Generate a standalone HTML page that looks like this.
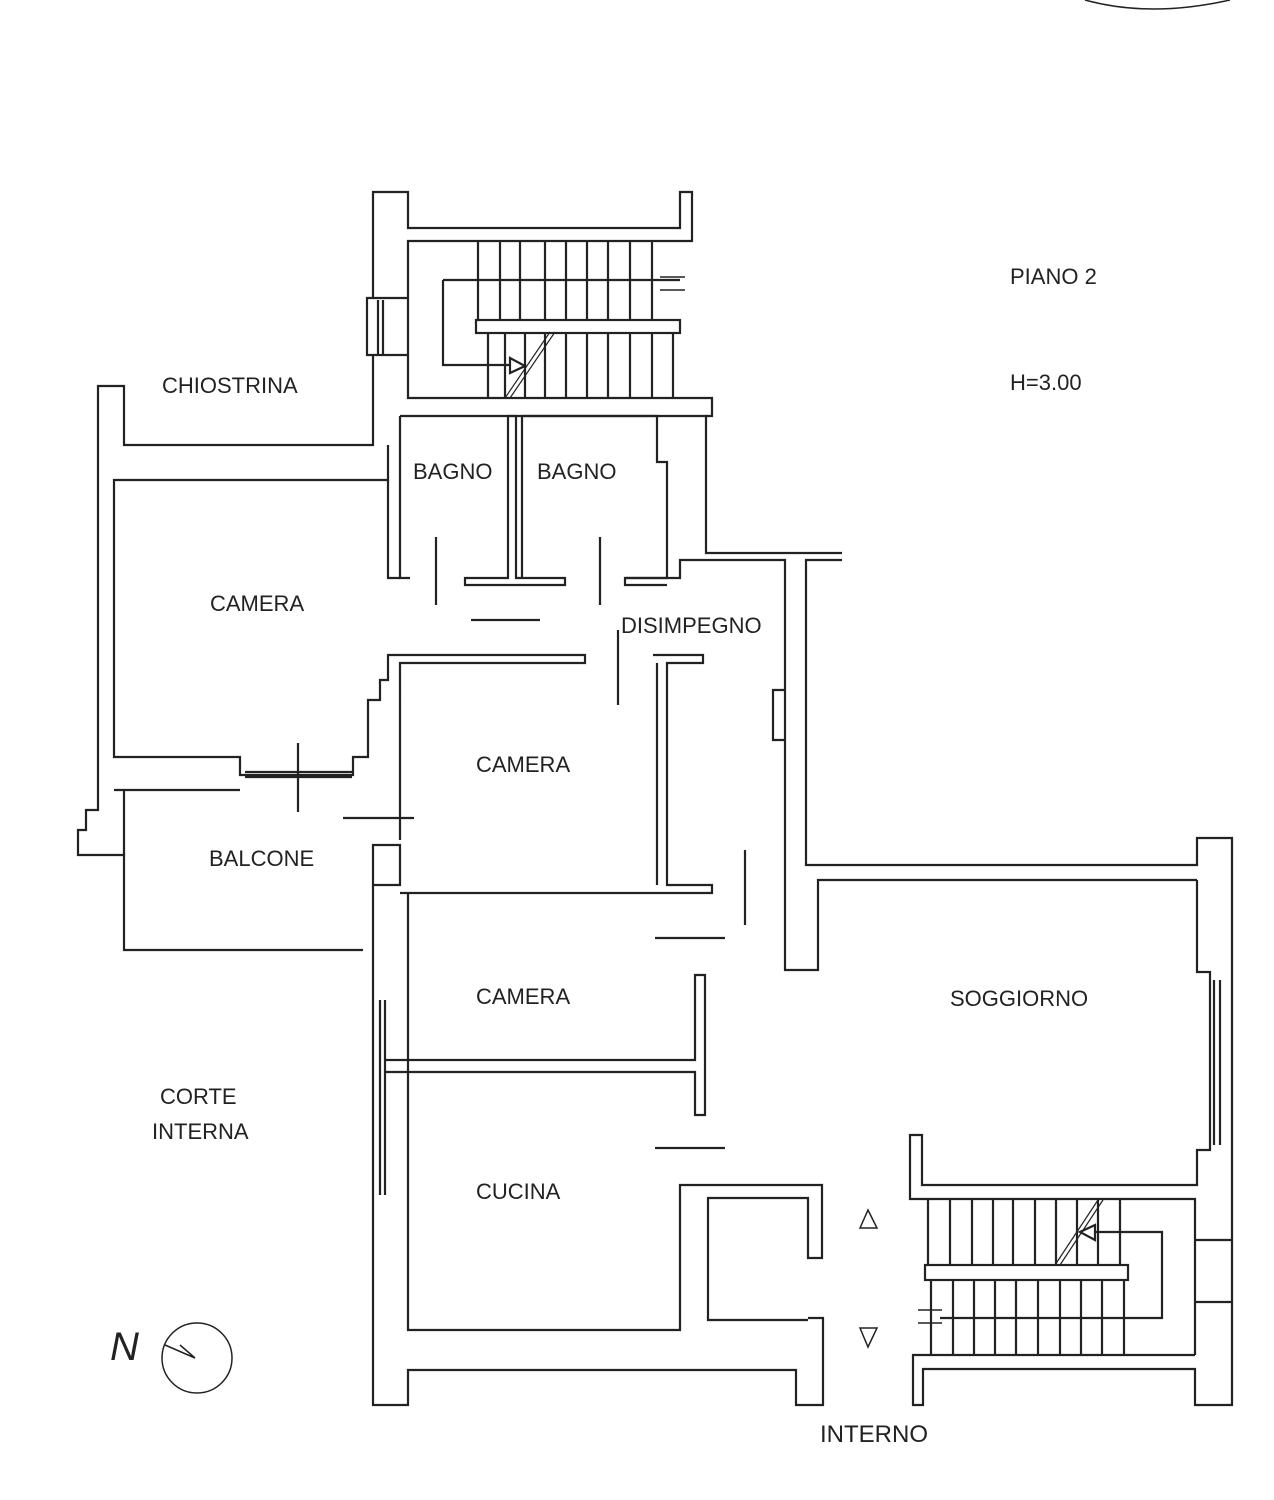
<!DOCTYPE html>
<html><head><meta charset="utf-8"><style>
html,body{margin:0;padding:0;background:#fff}
svg{display:block}
text{font-family:"Liberation Sans",sans-serif;font-size:22px;fill:#222}
</style></head><body>
<svg width="1274" height="1500" viewBox="0 0 1274 1500" xmlns="http://www.w3.org/2000/svg">
<g fill="none" stroke="#222" stroke-width="2.2">
<!-- top stair block -->
<path d="M373,410 V355 H367 V298 H373 V192 H408 V228 H680 V192 H692 V241 H408 V398 H712 V410"/>
<path d="M408,298 H373 M408,355 H373"/>
<path d="M378,300 V355 M383,300 V355"/>
<rect x="476" y="320" width="204" height="13"/>
<path d="M478,241 V320 M500,241 V320 M520,241 V320 M545,241 V320 M566,241 V320 M587,241 V320 M608,241 V320 M630,241 V320 M652,241 V320"/>
<path d="M488,333 V398 M505,333 V398 M525,333 V398 M545,333 V398 M566,333 V398 M587,333 V398 M608,333 V398 M630,333 V398 M652,333 V398 M673,333 V398"/>
<path d="M443,280 H680 M443,280 V365 H510"/>
<path d="M510,358 L525,366 L510,373 Z"/>
<path d="M505,398 L550,332 M510,398 L555,332" stroke-width="1.2"/>
<path d="M660,277 H685 M660,290 H685" stroke-width="1.5"/>
<!-- right of bagno -->
<path d="M712,410 V416 H706 V553 H842"/>
<path d="M842,560 H806 V865 H1197 V838 H1232 V970"/>
<path d="M1197,880 H818 V970 H785 V560 H680 V578 H625"/>
<path d="M785,690 H773 V740 H785"/>
<!-- bagni -->
<path d="M400,416 V578 H410 M465,578 H508 V416 H516 V578 H565 V585 H465 Z"/>
<path d="M522,416 V578 M522,416 H657 V462 H667 V578 H625 V585 H667"/>
<path d="M400,416 H708"/>
<!-- door jambs/swings -->
<path d="M436,537 V605 M600,537 V605 M471,620 H540 M618,630 V705 M655,938 H725 M745,850 V925 M655,1148 H725"/>
<!-- chiostrina and camera -->
<path d="M373,410 V445 H124 V386 H98 V810 H86 V830 H78 V855 H124 V950 H363"/>
<path d="M388,445 V480 H114 V757 H240 V775 H353 V757 H368 V700 H380 V680 H388 V655 H585 V663 H400 V840"/>
<path d="M114,790 H240 M124,790 V855"/>
<path d="M245,772 H352 M245,777 H352"/>
<path d="M298,743 V812 M343,818 H414"/>
<path d="M388,480 V578 H400"/>
<!-- camera 2 / corridor -->
<path d="M653,655 H703 V663 H667 V885 H712 V893 H400"/>
<path d="M657,663 V885"/>
<path d="M373,845 H400 V885 H373 Z" />
<path d="M373,885 V1405 H408 V1370 H796 V1405 H823 V1318 H808"/>
<path d="M408,893 V1330 H680 V1185 H822 V1258 H808 V1198 H708 V1320 H808"/>
<path d="M385,1060 H695 V975 H705 V1115 H695 V1072 H385"/>
<path d="M380,1000 V1195 M385,1000 V1195"/>
<!-- soggiorno right -->
<path d="M1232,970 V1405 H1195 V1369 H923 V1405 H913 V1355 H1195"/>
<path d="M1197,880 V972 H1210 V1150 H1197 V1185 H922 V1135 H910 V1199 H1195 V1355"/>
<path d="M1214,980 V1145 M1220,980 V1145"/>
<path d="M1195,1240 H1232 M1195,1302 H1232"/>
<rect x="925" y="1265" width="203" height="15"/>
<path d="M928,1199 V1265 M950,1199 V1265 M972,1199 V1265 M993,1199 V1265 M1013,1199 V1265 M1035,1199 V1265 M1056,1199 V1265 M1077,1199 V1265 M1098,1199 V1265 M1120,1199 V1265"/>
<path d="M931,1280 V1355 M953,1280 V1355 M974,1280 V1355 M995,1280 V1355 M1016,1280 V1355 M1038,1280 V1355 M1060,1280 V1355 M1081,1280 V1355 M1102,1280 V1355 M1124,1280 V1355"/>
<path d="M1095,1232 H1162 V1318 H940"/>
<path d="M1095,1225 L1080,1232 L1095,1240 Z"/>
<path d="M1055,1265 L1098,1200 M1060,1265 L1103,1200" stroke-width="1.2"/>
<path d="M918,1310 H942 M918,1323 H942" stroke-width="1.5"/>
<path d="M860,1228 L868,1210 L877,1228 Z M860,1328 L868,1347 L877,1328 Z" stroke-width="1.5"/>
<!-- compass -->
<circle cx="197" cy="1358" r="35" stroke-width="1.5"/>
<path d="M165,1345 L195,1358 L180,1345" stroke-width="1.5"/>
<path d="M1085,0 Q1150,18 1230,0" stroke-width="1.5"/>
</g>
<text x="162" y="393">CHIOSTRINA</text>
<text x="413" y="479">BAGNO</text>
<text x="537" y="479">BAGNO</text>
<text x="210" y="611">CAMERA</text>
<text x="621" y="633">DISIMPEGNO</text>
<text x="476" y="772">CAMERA</text>
<text x="209" y="866">BALCONE</text>
<text x="476" y="1004">CAMERA</text>
<text x="950" y="1006">SOGGIORNO</text>
<text x="160" y="1104">CORTE</text>
<text x="152" y="1139">INTERNA</text>
<text x="476" y="1199">CUCINA</text>
<text x="1010" y="284">PIANO 2</text>
<text x="1010" y="390">H=3.00</text>
<text x="820" y="1442" style="font-size:24px">INTERNO</text>
<text x="110" y="1360" style="font-size:40px;font-style:italic">N</text>
</svg>
</body></html>
